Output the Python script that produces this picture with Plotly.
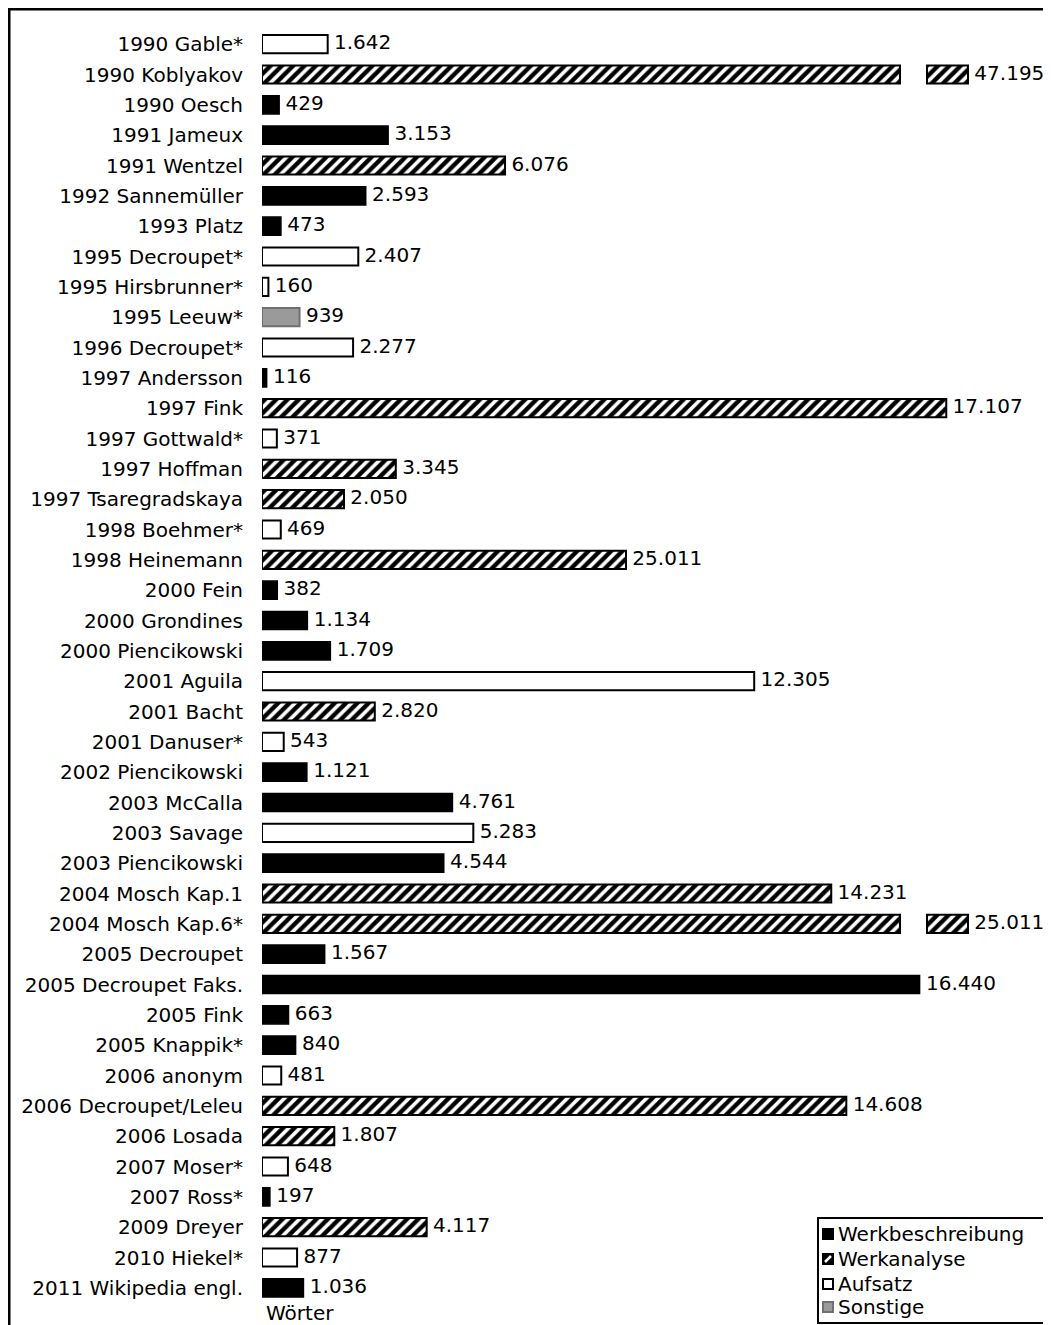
import plotly.graph_objects as go

# --- Data ---
authors = [
    "1990 Gable*", "1990 Koblyakov", "1990 Oesch", "1991 Jameux", "1991 Wentzel",
    "1992 Sannemüller", "1993 Platz", "1995 Decroupet*", "1995 Hirsbrunner*", "1995 Leeuw*",
    "1996 Decroupet*", "1997 Andersson", "1997 Fink", "1997 Gottwald*", "1997 Hoffman",
    "1997 Tsaregradskaya", "1998 Boehmer*", "1998 Heinemann", "2000 Fein", "2000 Grondines",
    "2000 Piencikowski", "2001 Aguila", "2001 Bacht", "2001 Danuser*", "2002 Piencikowski",
    "2003 McCalla", "2003 Savage", "2003 Piencikowski", "2004 Mosch Kap.1", "2004 Mosch Kap.6*",
    "2005 Decroupet", "2005 Decroupet Faks.", "2005 Fink", "2005 Knappik*", "2006 anonym",
    "2006 Decroupet/Leleu", "2006 Losada", "2007 Moser*", "2007 Ross*", "2009 Dreyer",
    "2010 Hiekel*", "2011 Wikipedia engl.",
]
words = [
    1642, 47195, 429, 3153, 6076,
    2593, 473, 2407, 160, 939,
    2277, 116, 17107, 371, 3345,
    2050, 469, 25011, 382, 1134,
    1709, 12305, 2820, 543, 1121,
    4761, 5283, 4544, 14231, 25011,
    1567, 16440, 663, 840, 481,
    14608, 1807, 648, 197, 4117,
    877, 1036,
]
kinds = [
    "Aufsatz", "Werkanalyse", "Werkbeschreibung", "Werkbeschreibung", "Werkanalyse",
    "Werkbeschreibung", "Werkbeschreibung", "Aufsatz", "Aufsatz", "Sonstige",
    "Aufsatz", "Werkbeschreibung", "Werkanalyse", "Aufsatz", "Werkanalyse",
    "Werkanalyse", "Aufsatz", "Werkanalyse", "Werkbeschreibung", "Werkbeschreibung",
    "Werkbeschreibung", "Aufsatz", "Werkanalyse", "Aufsatz", "Werkbeschreibung",
    "Werkbeschreibung", "Aufsatz", "Werkbeschreibung", "Werkanalyse", "Werkanalyse",
    "Werkbeschreibung", "Werkbeschreibung", "Werkbeschreibung", "Werkbeschreibung", "Aufsatz",
    "Werkanalyse", "Werkanalyse", "Aufsatz", "Werkbeschreibung", "Werkanalyse",
    "Aufsatz", "Werkbeschreibung",
]
# in the original the Heinemann bar is drawn much shorter than its label says
drawn_override = {"1998 Heinemann": 9100}
legend_order = ["Werkbeschreibung", "Werkanalyse", "Aufsatz", "Sonstige"]

# --- Style ---
FONT = "DejaVu Sans"
FS = 20
W, H = 1043, 1317          # page has an 8px body margin
ML, MT, MB = 254, 21, 22
BREAK_AT = 15950           # axis break: long bars are cut here
GAP = 675
TAIL = 1025

STYLES = {
    "Werkbeschreibung": dict(color="black", line=dict(color="black", width=1.5)),
    "Werkanalyse": dict(color="white", line=dict(color="black", width=2),
                        pattern=dict(shape="/", fgcolor="black", bgcolor="white",
                                     fgopacity=1, fillmode="replace",
                                     size=8, solidity=0.55)),
    "Aufsatz": dict(color="white", line=dict(color="black", width=2)),
    "Sonstige": dict(color="#9a9a9a", line=dict(color="#707070", width=2)),
}

PW = W - ML
PH = H - MT - MB


def px2x(fx):
    return (fx - ML) / PW


def px2y(fy):
    return (H - MB - fy) / PH


def fmt(v):
    return f"{v:,}".replace(",", ".")


drawn = [drawn_override.get(a, w) for a, w in zip(authors, words)]
broken = [d > BREAK_AT + GAP + TAIL for d in drawn]
bar_len = [BREAK_AT if b else d for d, b in zip(drawn, broken)]
label_x = [BREAK_AT + GAP + TAIL if b else d for d, b in zip(drawn, broken)]

fig = go.Figure()

for kind in legend_order:
    idx = [i for i, k in enumerate(kinds) if k == kind]
    fig.add_trace(go.Bar(
        name=kind,
        y=[authors[i] for i in idx],
        x=[bar_len[i] for i in idx],
        orientation="h",
        width=0.6,
        marker=STYLES[kind],
        hoverinfo="skip",
        showlegend=False,
    ))

# tail pieces of the broken bars
bidx = [i for i, b in enumerate(broken) if b]
fig.add_trace(go.Bar(
    y=[authors[i] for i in bidx],
    x=[TAIL for i in bidx],
    base=[BREAK_AT + GAP for i in bidx],
    orientation="h",
    width=0.6,
    marker=STYLES["Werkanalyse"],
    showlegend=False,
    hoverinfo="skip",
))

# value labels
fig.add_trace(go.Scatter(
    y=authors,
    x=label_x,
    mode="text",
    text=[" " + fmt(w) for w in words],
    textposition="middle right",
    textfont=dict(family=FONT, size=FS, color="black"),
    showlegend=False,
    hoverinfo="skip",
    cliponaxis=False,
))

# --- hand-drawn legend box (as in the original) ---
shapes = [
    # outer frame
    dict(type="rect", xref="paper", yref="paper",
         x0=px2x(1), x1=px2x(W + 20), y0=px2y(H + 20), y1=px2y(1),
         line=dict(color="black", width=3)),
    # legend frame
    dict(type="rect", xref="paper", yref="paper",
         x0=px2x(810), x1=px2x(1041), y0=px2y(1315), y1=px2y(1210),
         line=dict(color="black", width=2), fillcolor="white", layer="above"),
]
annotations = [
    dict(text="Wörter", x=px2x(256), y=px2y(1305), xref="paper", yref="paper",
         xanchor="left", yanchor="middle", showarrow=False, font=dict(size=FS)),
]
sym_fill = {"Werkbeschreibung": ("black", "black"), "Werkanalyse": ("black", "black"),
            "Aufsatz": ("white", "black"), "Sonstige": ("#9a9a9a", "#707070")}
row_y = [1226, 1251, 1276, 1299]
for kind, ry in zip(legend_order, row_y):
    fill, line = sym_fill[kind]
    shapes.append(dict(type="rect", xref="paper", yref="paper", layer="above",
                       x0=px2x(815), x1=px2x(825), y0=px2y(ry + 5), y1=px2y(ry - 5),
                       fillcolor=fill, line=dict(color=line, width=2)))
    if kind == "Werkanalyse":
        shapes.append(dict(type="line", xref="paper", yref="paper", layer="above",
                           x0=px2x(817), x1=px2x(823), y0=px2y(ry + 3), y1=px2y(ry - 3),
                           line=dict(color="white", width=2.5)))
    annotations.append(dict(text=kind, x=px2x(828), y=px2y(ry), xref="paper", yref="paper",
                            xanchor="left", yanchor="middle", showarrow=False,
                            font=dict(size=FS)))

n = len(authors)
fig.update_layout(
    width=W, height=H,
    paper_bgcolor="white", plot_bgcolor="white",
    font=dict(family=FONT, size=FS, color="black"),
    barmode="overlay",
    showlegend=False,
    margin=dict(l=ML, r=0, t=MT, b=MB, autoexpand=False),
    xaxis=dict(range=[0, PW / 0.04], showgrid=False, zeroline=False,
               showticklabels=False, showline=False, fixedrange=True),
    yaxis=dict(categoryorder="array", categoryarray=authors, range=[n - 0.5, -0.5],
               showgrid=False, zeroline=False, showline=False,
               ticklabelstandoff=18, tickfont=dict(size=FS), fixedrange=True),
    annotations=annotations,
    shapes=shapes,
)

fig.write_html("out.html")
